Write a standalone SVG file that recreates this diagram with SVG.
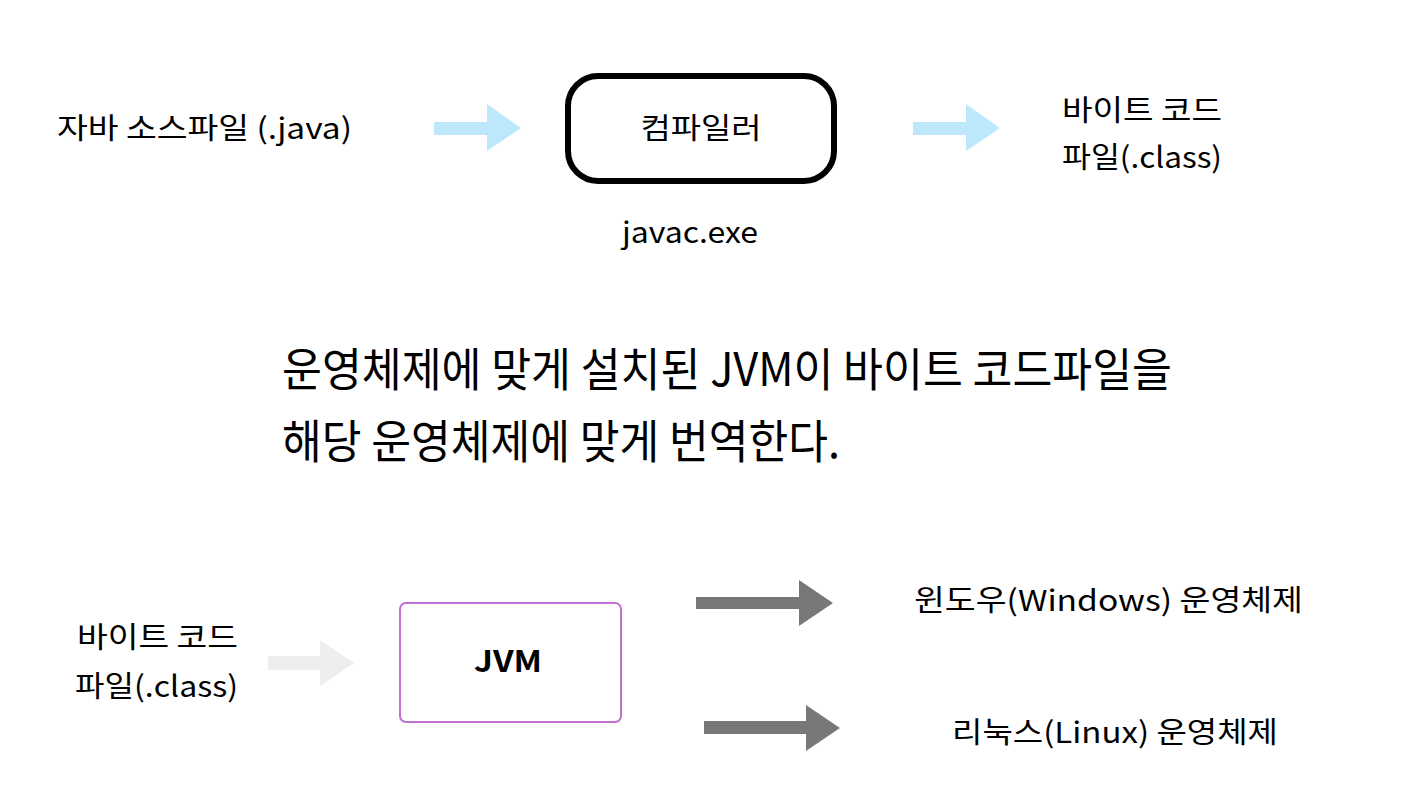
<svg xmlns="http://www.w3.org/2000/svg" width="1407" height="810" viewBox="0 0 1407 810">
  <style>
    text { font-family: "Noto Sans CJK KR", "Noto Sans", sans-serif; fill: #000; }
    .lbl { font-size: 29px; }
    .big { font-size: 46px; }
    .blue { fill: #bde8fc; }
    .lgray { fill: #eeeeee; }
    .dgray { fill: #787878; }
  </style>
  <rect width="1407" height="810" fill="#ffffff"/>

  <g id="connectors">
    <polygon class="blue" points="434,122 487,122 487,104 521,128 487,151 487,135 434,135"/>
    <polygon class="blue" points="913,122 966,122 966,104 1000,128 966,151 966,135 913,135"/>
    <polygon class="lgray" points="268,656 320,656 320,640 354,663 320,686 320,670 268,670"/>
    <polygon class="dgray" points="696,597 799,597 799,580 833,603 799,626 799,609 696,609"/>
    <polygon class="dgray" points="704,721 806,721 806,705 840,728 806,751 806,734 704,734"/>
  </g>

  <g id="source">
    <text class="lbl" x="57" y="139" textLength="295" lengthAdjust="spacingAndGlyphs">자바 소스파일 (.java)</text>
  </g>

  <g id="compiler">
    <rect x="568" y="76" width="266" height="105" rx="30" ry="30" fill="#ffffff" stroke="#000000" stroke-width="6"/>
    <text class="lbl" x="701" y="139" text-anchor="middle" textLength="121" lengthAdjust="spacingAndGlyphs">컴파일러</text>
    <text class="lbl" x="690" y="243" text-anchor="middle" textLength="136" lengthAdjust="spacingAndGlyphs">javac.exe</text>
  </g>

  <g id="bytecode-top">
    <text class="lbl" x="1062" y="121" textLength="160" lengthAdjust="spacingAndGlyphs">바이트 코드</text>
    <text class="lbl" x="1062" y="168" textLength="160" lengthAdjust="spacingAndGlyphs">파일(.class)</text>
  </g>

  <g id="description">
    <text class="big" x="282" y="386" textLength="890" lengthAdjust="spacingAndGlyphs">운영체제에 맞게 설치된 JVM이 바이트 코드파일을</text>
    <text class="big" x="282" y="458" textLength="558" lengthAdjust="spacingAndGlyphs">해당 운영체제에 맞게 번역한다.</text>
  </g>

  <g id="bytecode-bottom">
    <text class="lbl" x="77" y="648" textLength="161" lengthAdjust="spacingAndGlyphs">바이트 코드</text>
    <text class="lbl" x="75" y="697" textLength="163" lengthAdjust="spacingAndGlyphs">파일(.class)</text>
  </g>

  <g id="jvm">
    <rect x="400" y="603" width="221" height="119" rx="6" ry="6" fill="#ffffff" stroke="#c271d2" stroke-width="2"/>
    <text x="508" y="672" text-anchor="middle" font-size="30" font-weight="bold" textLength="68" lengthAdjust="spacingAndGlyphs">JVM</text>
  </g>

  <g id="windows">
    <text class="lbl" x="914" y="611" textLength="389" lengthAdjust="spacingAndGlyphs">윈도우(Windows) 운영체제</text>
  </g>

  <g id="linux">
    <text class="lbl" x="952" y="743" textLength="326" lengthAdjust="spacingAndGlyphs">리눅스(Linux) 운영체제</text>
  </g>
</svg>
